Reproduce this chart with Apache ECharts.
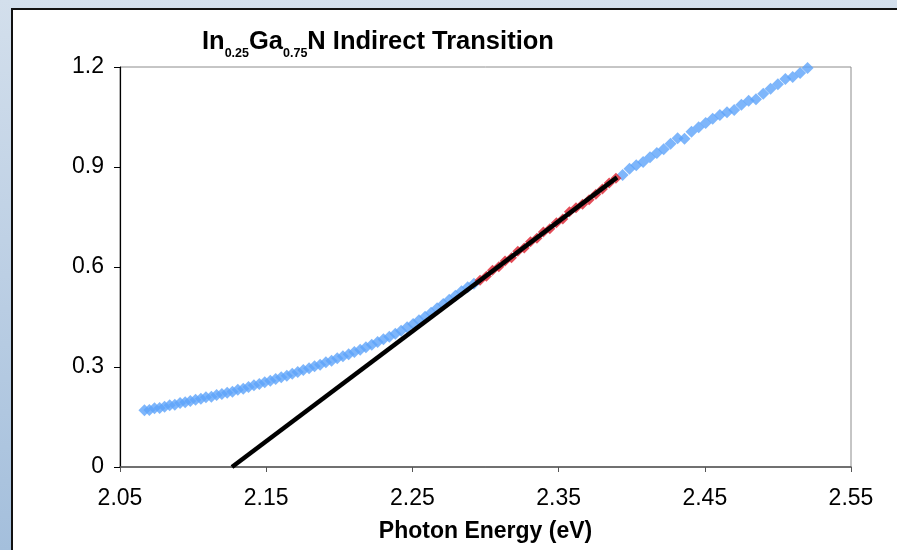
<!DOCTYPE html>
<html>
<head>
<meta charset="utf-8">
<script src="https://cdn.jsdelivr.net/npm/echarts@6/dist/echarts.min.js"></script>
<style>
  html, body { margin:0; padding:0; width:897px; height:550px; overflow:hidden; }
  body { background: linear-gradient(180deg, #d3dfec 0%, #bccfe4 50%, #a4bfdc 100%); position:relative; }
  #panel { position:absolute; left:11px; top:8px; width:886px; height:542px; background:#fff; border-left:2px solid #111; border-top:2px solid #111; box-sizing:border-box; }
  #chart { position:absolute; left:0; top:0; width:897px; height:550px; }
</style>
</head>
<body>
<div id="panel"></div>
<div id="chart"></div>
<script>
const energyLow = [2.0667,2.0701,2.0736,2.0771,2.0805,2.0840,2.0875,2.0911,2.0946,2.0981,2.1017,2.1053,2.1088,2.1125,2.1161,2.1197,2.1233,2.1269,2.1306,2.1343,2.1379,2.1416,2.1453,2.1490,2.1528,2.1565,2.1603,2.1641,2.1678,2.1716,2.1754,2.1793,2.1831,2.1869,2.1908,2.1947,2.1986,2.2025,2.2064,2.2103,2.2143,2.2182,2.2222,2.2262,2.2302,2.2342,2.2383,2.2423,2.2464,2.2505,2.2545,2.2587,2.2628,2.2669,2.2711,2.2752,2.2794,2.2836,2.2878,2.2921];
const valueLow = [0.170,0.171,0.176,0.177,0.181,0.185,0.187,0.192,0.194,0.198,0.202,0.205,0.209,0.211,0.216,0.219,0.223,0.226,0.232,0.235,0.240,0.245,0.249,0.254,0.259,0.264,0.269,0.274,0.280,0.285,0.291,0.296,0.302,0.307,0.314,0.319,0.326,0.332,0.338,0.345,0.352,0.359,0.367,0.375,0.383,0.391,0.400,0.409,0.419,0.429,0.440,0.451,0.463,0.476,0.489,0.502,0.514,0.527,0.539,0.550];
const energyFitRange = [2.2963,2.3006,2.3048,2.3091,2.3134,2.3178,2.3221,2.3265,2.3308,2.3352,2.3396,2.3440,2.3485,2.3529,2.3574,2.3619,2.3664,2.3709,2.3755,2.3800,2.3846,2.3892];
const valueFitRange = [0.560,0.572,0.590,0.601,0.618,0.628,0.647,0.657,0.676,0.686,0.705,0.715,0.733,0.744,0.766,0.778,0.788,0.802,0.818,0.834,0.852,0.866];
const energyHigh = [2.3938,2.3985,2.4031,2.4078,2.4125,2.4172,2.4219,2.4266,2.4314,2.4361,2.4409,2.4458,2.4506,2.4554,2.4603,2.4652,2.4701,2.4750,2.4800,2.4850,2.4900,2.4950,2.5000,2.5051,2.5101,2.5152,2.5203];
const valueHigh = [0.876,0.895,0.905,0.915,0.929,0.942,0.953,0.970,0.986,0.985,1.006,1.019,1.032,1.045,1.056,1.064,1.071,1.087,1.099,1.103,1.120,1.135,1.148,1.164,1.170,1.182,1.197];
// Linear fit line end points
const fitLineX = [2.1266, 2.3900];
const fitLineY = [0.000, 0.869];
// Axes
const xTicks = { min: 2.05, max: 2.55, step: 0.1 };
const yTicks = { min: 0, max: 1.2, step: 0.3 };

const zip = (a, b) => a.map((v, i) => [v, b[i]]);
const font = 'Arial, "Liberation Sans", sans-serif';

const chart = echarts.init(document.getElementById('chart'), null, { renderer: 'canvas' });
chart.setOption({
  animation: false,
  backgroundColor: 'transparent',
  title: {
    text: '{m|In}{s|0.25}{m|Ga}{s|0.75}{m|N Indirect Transition}',
    left: 197, top: 20,
    textStyle: {
      rich: {
        m: { fontFamily: font, fontWeight: 'bold', fontSize: 25.5, color: '#000', lineHeight: 30, verticalAlign: 'bottom' },
        s: { fontFamily: font, fontWeight: 'bold', fontSize: 12.5, color: '#000', lineHeight: 30, verticalAlign: 'bottom', padding: [0,0,-5,0] }
      }
    }
  },
  grid: { left: 120, right: 46, top: 67, bottom: 83, show: true, borderColor: '#8c8c8c', borderWidth: 1, backgroundColor: 'transparent' },
  xAxis: {
    type: 'value', min: xTicks.min, max: xTicks.max, interval: xTicks.step,
    name: 'Photon Energy (eV)', nameLocation: 'middle', nameGap: 53,
    nameTextStyle: { fontFamily: font, fontWeight: 'bold', fontSize: 23, color: '#000' },
    axisLine: { show: true, onZero: false, lineStyle: { color: '#555', width: 1.5 } },
    axisTick: { show: true, length: 5, lineStyle: { color: '#555' } },
    axisLabel: { margin: 20, fontFamily: font, fontSize: 23, color: '#000', formatter: v => v.toFixed(2) },
    splitLine: { show: false }
  },
  yAxis: {
    type: 'value', min: yTicks.min, max: yTicks.max, interval: yTicks.step,
    axisLine: { show: true, onZero: false, lineStyle: { color: '#000', width: 1.2 } },
    axisTick: { show: true, length: 6, lineStyle: { color: '#000' } },
    axisLabel: { margin: 16, fontFamily: font, fontSize: 23, color: '#000', formatter: v => (v === 0 ? '0' : v.toFixed(1)) },
    splitLine: { show: false }
  },
  series: [
    { type: 'scatter', data: zip(energyLow, valueLow), symbol: 'diamond', symbolSize: 12, itemStyle: { color: '#5ea4fa' }, z: 2 },
    { type: 'scatter', data: zip(energyHigh, valueHigh), symbol: 'diamond', symbolSize: 12, itemStyle: { color: '#5ea4fa' }, z: 2 },
    { type: 'scatter', data: zip(energyFitRange, valueFitRange), symbol: 'diamond', symbolSize: 11, itemStyle: { color: '#dc2230' }, z: 3 },
    { type: 'line', data: zip(fitLineX, fitLineY), showSymbol: false, symbol: 'none', lineStyle: { color: '#000', width: 4.5 }, z: 4 }
  ]
});
</script>
</body>
</html>
